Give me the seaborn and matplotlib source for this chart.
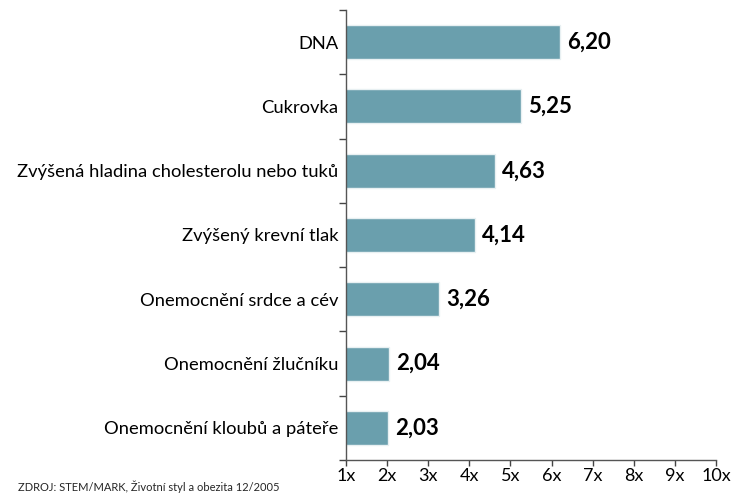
import matplotlib
matplotlib.use("Agg")
import matplotlib.pyplot as plt
import seaborn as sns
import pandas as pd
from matplotlib.ticker import FixedLocator

categories = [
    "DNA",
    "Cukrovka",
    "Zvýšená hladina cholesterolu nebo tuků",
    "Zvýšený krevní tlak",
    "Onemocnění srdce a cév",
    "Onemocnění žlučníku",
    "Onemocnění kloubů a páteře",
]
values = [6.20, 5.25, 4.63, 4.14, 3.26, 2.04, 2.03]
x_ticks = [1, 2, 3, 4, 5, 6, 7, 8, 9, 10]
x_tick_labels = [f"{t}x" for t in x_ticks]
source = "ZDROJ: STEM/MARK, Životní styl a obezita 12/2005"

sns.set_style("white")
FAM = ["Lato", "DejaVu Sans"]
plt.rcParams["font.family"] = FAM

df = pd.DataFrame({"cat": categories, "val": values})

fig = plt.figure(figsize=(7.48, 4.97), dpi=100)
ax = fig.add_axes([346 / 748, 37 / 497, 370 / 748, 450 / 497])

sns.barplot(data=df, x="val", y="cat", orient="h", color="#6a9fad",
            saturation=1, width=0.53, edgecolor="#e8f0f2", linewidth=1, ax=ax)

ax.set_xlim(1, 10)
ax.set_ylim(len(categories) - 0.5, -0.5)
ax.set_xticks(x_ticks)
ax.set_xticklabels(x_tick_labels, fontsize=13, color="black")
ax.set_xlabel("")
ax.set_ylabel("")

ax.set_yticks(range(len(categories)))
ax.set_yticklabels(categories, fontsize=13.2, color="black")
ax.yaxis.set_minor_locator(FixedLocator([i - 0.5 for i in range(len(categories) + 1)]))
ax.tick_params(axis="y", which="major", length=0, pad=5.5)
ax.tick_params(axis="y", which="minor", length=5, width=1, color="#444444", direction="out", left=True)
ax.tick_params(axis="x", which="major", length=4, width=1, color="#444444", direction="out", bottom=True, pad=2)

for side in ["top", "right"]:
    ax.spines[side].set_visible(False)
for side in ["left", "bottom"]:
    ax.spines[side].set_color("#555555")
    ax.spines[side].set_linewidth(1)

labels = [f"{v:.2f}".replace(".", ",") for v in values]
ax.bar_label(ax.containers[0], labels=labels, padding=5, fontsize=16,
             fontweight="bold", color="black", family=FAM)

fig.text(18 / 748, 1 - 487 / 497, source, fontsize=8, va="center", ha="left", family=FAM)

fig.savefig("out.png", dpi=100)
